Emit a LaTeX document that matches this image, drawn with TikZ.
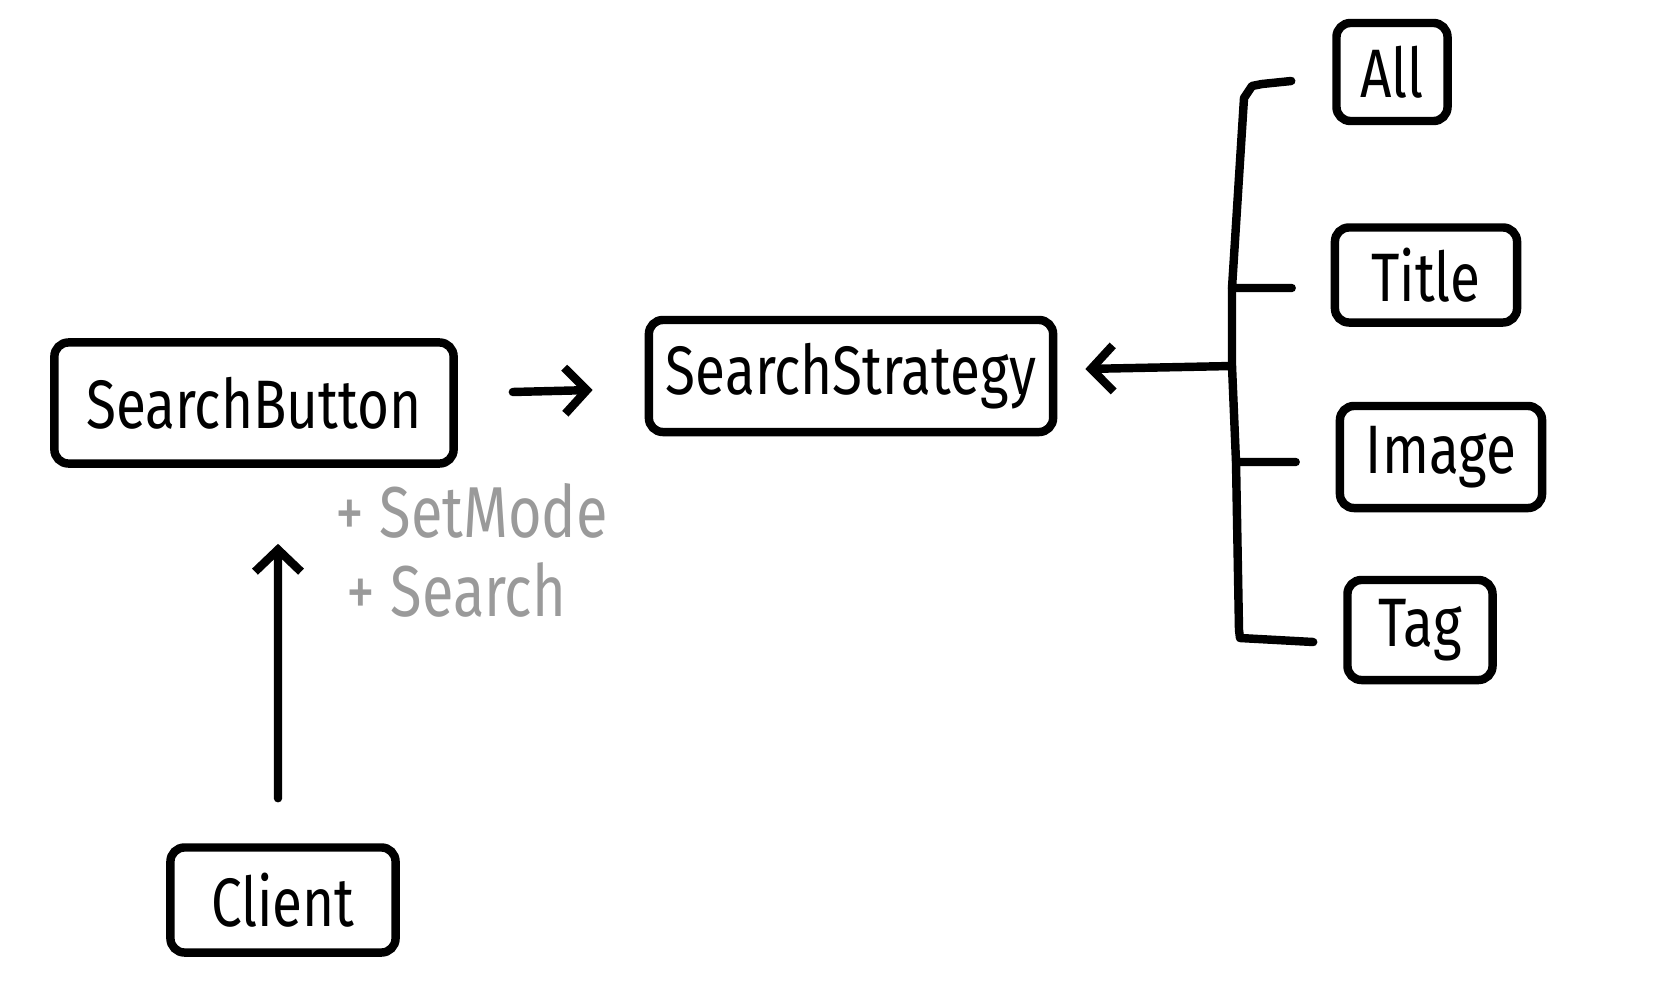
\documentclass[tikz,border=0pt]{standalone}
\usepackage{fontspec}
\newfontfamily\hand[FakeStretch=0.8]{Fira Sans}
\usetikzlibrary{arrows.meta,calc}
\definecolor{notegray}{HTML}{9A9A9A}
\begin{document}
\begin{tikzpicture}[x=0.01cm,y=-0.01cm,
  box/.style={draw, line width=2.4pt, rounded corners=4pt, inner sep=0pt,
    font=\hand\fontsize{19.5}{24}\selectfont},
  wire/.style={line width=2.4pt, line cap=round, line join=round},
  arr/.style={wire, -{Straight Barb[length=0.22cm,width=0.46cm]}},
  note/.style={text=notegray, inner sep=0pt, anchor=west,
    font=\hand\fontsize{20.5}{25}\selectfont}]
\useasboundingbox (0,0) rectangle (1654,1000);
\node[box, minimum width=3.99cm, minimum height=1.21cm] (sb) at (254,403) {SearchButton};
\node[box, minimum width=4.04cm, minimum height=1.12cm] (ss) at (851,376) {SearchStrategy};
\node[box, minimum width=2.25cm, minimum height=1.05cm] (cl) at (283,900) {Client};
\node[box, minimum width=1.11cm, minimum height=0.98cm] (all) at (1392,72) {All};
\node[box, minimum width=1.82cm, minimum height=0.95cm] (ti) at (1426,275) {Title};
\node[box, minimum width=2.02cm, minimum height=1.02cm] (im) at (1441,457) {Image};
\node[box, minimum width=1.45cm, minimum height=1.00cm] (tg) at (1420,630) {Tag};
\node[note] (n1) at (335,511) {+ SetMode};
\node[note] (n2) at (346,590) {+ Search};
% arrows
\draw[arr] ([xshift=0.55cm,yshift=0.11cm]sb.east) -- ([xshift=-0.52cm,yshift=-0.14cm]ss.west);
\draw[arr] ([xshift=-0.05cm,yshift=0.45cm]cl.north) -- ([xshift=0.24cm,yshift=-0.76cm]sb.south);
% bracket
\coordinate (b1) at (1252,86);
\coordinate (b2) at (1232,288);
\coordinate (b3) at (1236,462);
\coordinate (b4) at (1240,638);
\coordinate (bm) at (1232,366);
\draw[wire] ([xshift=-0.41cm,yshift=-0.09cm]all.west) -- (1262,84) -- (b1) -- (1244,98) -- (b2) -- (bm) -- (b3) -- (1239,630) -- (b4) -- ([xshift=-0.30cm,yshift=-0.12cm]tg.west);
\draw[wire] (b2) -- ([xshift=-0.39cm,yshift=-0.13cm]ti.west);
\draw[wire] (b3) -- ([xshift=-0.40cm,yshift=-0.05cm]im.west);
\draw[arr] (bm) -- ([xshift=0.28cm,yshift=0.07cm]ss.east);
\end{tikzpicture}
\end{document}
